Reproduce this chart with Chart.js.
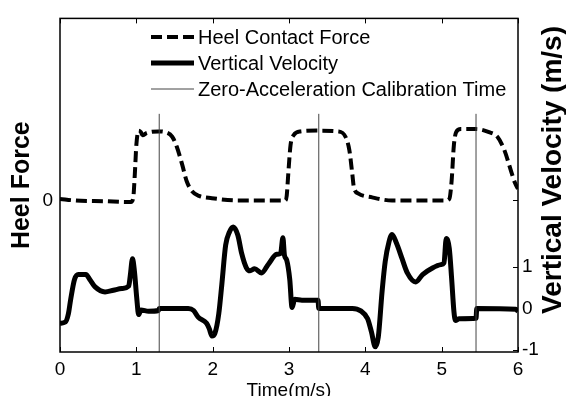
<!DOCTYPE html>
<html>
<head>
<meta charset="utf-8">
<script src="https://cdn.jsdelivr.net/npm/chart.js@4.4.1/dist/chart.umd.min.js"></script>
<style>
  html, body { margin: 0; padding: 0; background: #fff; }
</style>
</head>
<body>
<canvas id="chart" width="566" height="396"></canvas>
<script>
// heel contact force (dashed), left axis
const forceTime = [0.00, 0.20, 0.59, 0.88, 0.93, 0.96, 0.98, 1.00, 1.03, 1.06, 1.08, 1.14, 1.29, 1.38, 1.47, 1.53, 1.60, 1.66, 1.73, 1.82, 1.99, 2.34,
  2.95, 2.97, 2.99, 3.02, 3.06, 3.15, 3.39, 3.65, 3.74, 3.79, 3.83, 3.85, 3.91, 4.09, 4.35,
  5.05, 5.10, 5.13, 5.16, 5.19, 5.25, 5.45, 5.62, 5.73, 5.82, 5.91, 5.96, 6.00];
const heelForce = [0.02, 0.00, -0.01, -0.02, -0.02, 0.04, 0.34, 0.72, 0.91, 0.89, 0.85, 0.88, 0.90, 0.89, 0.83, 0.70, 0.47, 0.25, 0.12, 0.06, 0.03, 0.00,
  0.00, 0.06, 0.34, 0.72, 0.85, 0.90, 0.91, 0.90, 0.83, 0.66, 0.34, 0.17, 0.09, 0.04, 0.00,
  0.00, 0.02, 0.25, 0.72, 0.89, 0.93, 0.93, 0.89, 0.83, 0.66, 0.38, 0.23, 0.15];

// vertical velocity (solid), right axis
const velTime = [0.00, 0.07, 0.11, 0.14, 0.19, 0.24, 0.34, 0.39, 0.46, 0.59, 0.70, 0.81, 0.90, 0.92, 0.95, 0.975, 1.005, 1.03, 1.06, 1.16, 1.29, 1.30,
  1.68, 1.75, 1.81, 1.92, 1.955, 1.99, 2.03, 2.08, 2.12, 2.17, 2.22, 2.27, 2.33, 2.38, 2.44, 2.49, 2.55, 2.64, 2.73, 2.84, 2.89, 2.92, 2.94, 2.97,
  3.01, 3.04, 3.075, 3.17, 3.38, 3.39, 3.83, 3.94, 4.03, 4.08, 4.13, 4.17, 4.22, 4.26, 4.31, 4.35, 4.41, 4.48, 4.55, 4.66, 4.75, 4.88, 4.99,
  5.03, 5.06, 5.10, 5.13, 5.16, 5.18, 5.23, 5.45, 5.46, 5.97, 6.00];
const vertVel = [-0.36, -0.33, -0.13, 0.22, 0.70, 0.82, 0.82, 0.70, 0.52, 0.40, 0.44, 0.48, 0.54, 0.78, 1.20, 0.90, 0.26, -0.15, -0.04, -0.07, -0.05, 0.00,
  0.00, -0.05, -0.21, -0.36, -0.49, -0.67, -0.60, -0.13, 0.58, 1.53, 1.85, 1.97, 1.77, 1.33, 0.99, 0.91, 0.96, 0.86, 1.07, 1.31, 1.33, 1.71, 1.29, 1.17,
  0.70, 0.02, 0.22, 0.20, 0.20, 0.00, 0.00, -0.06, -0.25, -0.57, -0.93, -0.69, 0.42, 1.13, 1.61, 1.79, 1.57, 1.21, 0.86, 0.64, 0.82, 0.98, 1.06,
  1.10, 1.69, 1.45, 0.74, -0.06, -0.29, -0.25, -0.24, 0.00, -0.02, -0.07];

// zero-acceleration calibration times (thin vertical lines), drawn in velocity units
const calibTimes = [1.3, 3.39, 5.45];
const calibLow = -1.06;
const calibHigh = 4.71;

const xTicks = [0, 1, 2, 3, 4, 5, 6];
const forceTicks = [0];
const velTicks = [-1, 0, 1];

const FONT = "'Liberation Sans', Arial, Helvetica, sans-serif";

const forceData = forceTime.map((t, i) => ({ x: t, y: heelForce[i] }));
const velData = velTime.map((t, i) => ({ x: t, y: vertVel[i] }));
const calibData = [];
calibTimes.forEach(t => {
  calibData.push({ x: t, y: calibLow }, { x: t, y: calibHigh }, { x: t + 0.01, y: null });
});

// box around the plot + inward ticks, matlab style
const axesBox = {
  id: 'axesBox',
  afterDatasetsDraw(chart) {
    const { ctx, chartArea: a, scales } = chart;
    const len = 5;
    ctx.save();
    ctx.strokeStyle = '#000';
    ctx.lineWidth = 1.5;
    ctx.strokeRect(a.left, a.top, a.right - a.left, a.bottom - a.top);
    ctx.lineWidth = 1;
    ctx.beginPath();
    xTicks.forEach(v => {
      const px = Math.round(scales.x.getPixelForValue(v)) + 0.5;
      ctx.moveTo(px, a.bottom); ctx.lineTo(px, a.bottom - len);
      ctx.moveTo(px, a.top); ctx.lineTo(px, a.top + len);
    });
    forceTicks.forEach(v => {
      const py = Math.round(scales.yF.getPixelForValue(v)) + 0.5;
      ctx.moveTo(a.left, py); ctx.lineTo(a.left + len, py);
      ctx.moveTo(a.right, py); ctx.lineTo(a.right - len, py);
    });
    velTicks.forEach(v => {
      const py = Math.round(scales.yV.getPixelForValue(v)) + 0.5;
      ctx.moveTo(a.right, py); ctx.lineTo(a.right - len, py);
    });
    ctx.stroke();
    ctx.restore();
  }
};

// legend inside the axes, plus the right axis label read bottom-to-top
const legendAndLabel = {
  id: 'legendAndLabel',
  afterDraw(chart) {
    const { ctx } = chart;
    const rows = [
      { ds: chart.data.datasets[1], y: 37 },
      { ds: chart.data.datasets[2], y: 63 },
      { ds: chart.data.datasets[0], y: 89 }
    ];
    ctx.save();
    rows.forEach(r => {
      ctx.beginPath();
      ctx.strokeStyle = r.ds.borderColor;
      ctx.lineWidth = r.ds.borderWidth;
      ctx.setLineDash(r.ds.borderDash || []);
      ctx.moveTo(151, r.y); ctx.lineTo(194, r.y);
      ctx.stroke();
      ctx.setLineDash([]);
      ctx.fillStyle = '#000';
      ctx.font = '20px ' + FONT;
      ctx.textBaseline = 'middle';
      ctx.textAlign = 'left';
      ctx.fillText(r.ds.label, 198, r.y + 1);
    });
    ctx.translate(553, 170);
    ctx.rotate(-Math.PI / 2);
    ctx.font = 'bold 28px ' + FONT;
    ctx.textAlign = 'center';
    ctx.textBaseline = 'middle';
    ctx.fillText('Vertical Velocity (m/s)', 0, 0);
    ctx.restore();
  }
};

new Chart(document.getElementById('chart'), {
  type: 'line',
  data: {
    datasets: [
      {
        label: 'Zero-Acceleration Calibration Time',
        data: calibData,
        yAxisID: 'yV',
        borderColor: '#444',
        borderWidth: 1,
        pointRadius: 0,
        spanGaps: false
      },
      {
        label: 'Heel Contact Force',
        data: forceData,
        yAxisID: 'yF',
        borderColor: '#000',
        borderWidth: 4,
        borderDash: [11, 5],
        pointRadius: 0,
        cubicInterpolationMode: 'monotone'
      },
      {
        label: 'Vertical Velocity',
        data: velData,
        yAxisID: 'yV',
        borderColor: '#000',
        borderWidth: 5,
        pointRadius: 0,
        cubicInterpolationMode: 'monotone'
      }
    ]
  },
  options: {
    responsive: false,
    animation: false,
    devicePixelRatio: 1,
    layout: { padding: { top: 13 } },
    plugins: {
      legend: { display: false },
      tooltip: { enabled: false }
    },
    scales: {
      x: {
        type: 'linear',
        min: 0,
        max: 6,
        afterBuildTicks: s => { s.ticks = xTicks.map(v => ({ value: v })); },
        afterFit: s => { s.height = 44; },
        grid: { display: false, drawTicks: false },
        border: { display: false },
        ticks: { color: '#000', font: { size: 19, family: FONT }, padding: 6, maxRotation: 0 },
        title: { display: true, text: 'Time(m/s)', color: '#000', font: { size: 19, family: FONT, lineHeight: 0.5 }, padding: 0 }
      },
      yF: {
        position: 'left',
        min: -1.974,
        max: 2.372,
        afterBuildTicks: s => { s.ticks = forceTicks.map(v => ({ value: v })); },
        afterFit: s => { s.width = 60; },
        grid: { display: false, drawTicks: false },
        border: { display: false },
        ticks: { color: '#000', font: { size: 19, family: FONT }, padding: 7 },
        title: { display: true, text: 'Heel Force', color: '#000', font: { size: 25, weight: 'bold', family: FONT }, padding: { top: 7, bottom: 0 } }
      },
      yV: {
        position: 'right',
        min: -1.055,
        max: 7.02,
        afterBuildTicks: s => { s.ticks = velTicks.map(v => ({ value: v })); },
        afterFit: s => { s.width = 48; },
        grid: { display: false, drawTicks: false },
        border: { display: false },
        ticks: { color: '#000', font: { size: 19, family: FONT }, padding: 4 }
      }
    }
  },
  plugins: [axesBox, legendAndLabel]
});
</script>
</body>
</html>
